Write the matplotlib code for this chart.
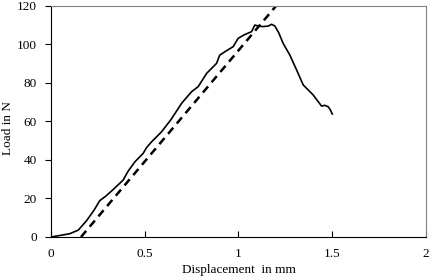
import matplotlib
matplotlib.use("Agg")
import matplotlib.pyplot as plt

disp = [0.0, 0.03, 0.06, 0.1, 0.146, 0.19, 0.23, 0.26, 0.288, 0.33, 0.385, 0.41,
        0.448, 0.492, 0.51, 0.537, 0.59, 0.64, 0.697, 0.75, 0.785, 0.83, 0.883,
        0.9, 0.94, 0.972, 0.998, 1.03, 1.07, 1.087, 1.105, 1.132, 1.16, 1.176,
        1.194, 1.215, 1.238, 1.274, 1.318, 1.345, 1.398, 1.443, 1.46, 1.478,
        1.49, 1.5]
load = [0.0, 0.5, 1.0, 1.7, 3.6, 8.5, 14.0, 18.9, 20.9, 24.5, 29.6, 34.0,
        39.1, 43.5, 46.5, 49.5, 54.7, 61.0, 69.5, 75.5, 78.1, 85.0, 90.2,
        94.5, 97.0, 98.9, 103.2, 105.0, 106.7, 110.1, 109.6, 109.3, 109.6, 110.5,
        109.6, 106.0, 100.6, 94.5, 85.0, 79.0, 73.8, 68.0, 68.4, 67.7,
        66.0, 63.9]

# linear fit of the elastic part
fit_disp = [0.16, 1.2]
fit_load = [0.0, 120.0]

plt.rcParams['font.family'] = ['Liberation Serif', 'DejaVu Serif']

fig = plt.figure(figsize=(4.3, 2.8), dpi=100)
ax = fig.add_axes([0.1186, 0.1536, 0.8721, 0.825])

ax.plot(disp, load, color='black', lw=1.2)
ax.plot(fit_disp, fit_load, color='black', lw=1.8, dashes=(3.2, 2.2))

ax.set_xlim(0, 2)
ax.set_ylim(0, 120)
ax.set_xticks([0, 0.5, 1, 1.5, 2])
ax.set_xticklabels(['0', '0.5', '1', '1.5', '2'])
ax.set_yticks(range(0, 121, 20))

ax.tick_params(axis='x', direction='in', length=4, labelsize=9.5, pad=8)
ax.tick_params(axis='y', direction='out', length=4, labelsize=9.5, pad=6)

for s in ['top', 'right']:
    ax.spines[s].set_color('#808080')
for s in ['left', 'bottom']:
    ax.spines[s].set_color('black')

ax.set_xlabel('Displacement  in mm', fontsize=9.5, labelpad=3)
ax.set_ylabel('Load in N', fontsize=9.5)
ax.yaxis.set_label_coords(-0.098, 0.47)

fig.savefig('out.png', dpi=100)
